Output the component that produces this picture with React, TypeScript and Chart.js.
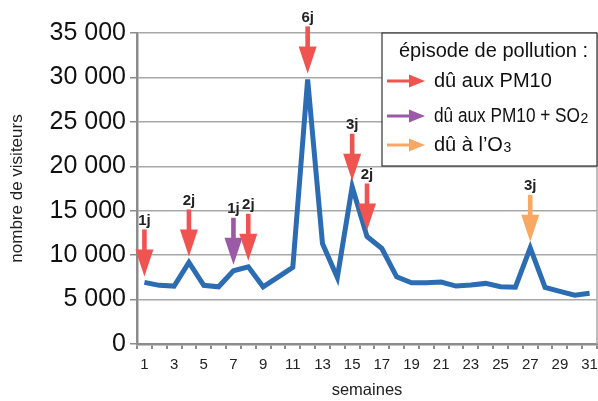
import React, { useEffect, useRef } from "react";
import { Chart, registerables } from "chart.js";

Chart.register(...registerables);

const weeks = ["1","2","3","4","5","6","7","8","9","10","11","12","13","14","15","16","17","18","19","20","21","22","23","24","25","26","27","28","29","30","31"];
const visitors = [6930, 6600, 6520, 9180, 6600, 6440, 8240, 8690, 6440, 7530, 8620, 29780, 11300, 7490, 17700, 12100, 10750, 7560, 6890, 6890, 6970, 6520, 6630, 6820, 6440, 6400, 10820, 6370, 5920, 5500, 5700];
const yTickValues = [0, 5000, 10000, 15000, 20000, 25000, 30000, 35000];
const yTickLabels = ["0", "5 000", "10 000", "15 000", "20 000", "25 000", "30 000", "35 000"];

const episodeWeeks = ["1", "4", "7", "8", "12", "15", "16", "27"];
const episodeDays = ["1j", "2j", "1j", "2j", "6j", "3j", "2j", "3j"];
const episodeCauses = ["PM10", "PM10", "PM10+SO2", "PM10", "PM10", "PM10", "PM10", "O3"];

const legendTitle = "épisode de pollution :";
const legendCauses = ["PM10", "PM10+SO2", "O3"];
const legendTexts = ["dû aux PM10", "dû aux PM10 + SO", "dû à l’O"];
const legendSubs = ["", "2", "3"];

const causeColors: Record<string, string> = {
  "PM10": "#f05450",
  "PM10+SO2": "#9b5aa7",
  "O3": "#f7a963",
};

const FONT = "'Liberation Sans', Arial, sans-serif";

const overlayPlugin = {
  id: "overlay",
  afterDatasetsDraw(chart: any) {
    const ctx = chart.ctx;
    const xs = chart.scales.x;
    const ys = chart.scales.y;
    const ca = chart.chartArea;
    ctx.save();
    ctx.strokeStyle = "#a8a8a8";
    ctx.lineWidth = 1.5;
    ctx.beginPath();
    ctx.moveTo(ca.right, ca.top);
    ctx.lineTo(ca.right, ca.bottom);
    ctx.stroke();

    episodeWeeks.forEach((w, i) => {
      const idx = weeks.indexOf(w);
      const x = xs.getPixelForValue(idx);
      const y = ys.getPixelForValue(visitors[idx]);
      const tip = y - 6;
      const headBase = tip - 27;
      const top = tip - 47;
      ctx.fillStyle = causeColors[episodeCauses[i]];
      ctx.fillRect(x - 2.3, top, 4.6, headBase - top + 1);
      ctx.beginPath();
      ctx.moveTo(x - 9, headBase);
      ctx.lineTo(x + 9, headBase);
      ctx.lineTo(x, tip);
      ctx.closePath();
      ctx.fill();
      ctx.fillStyle = "#222";
      ctx.font = `bold 15px ${FONT}`;
      ctx.textAlign = "center";
      ctx.textBaseline = "middle";
      ctx.fillText(episodeDays[i], x, top - 9);
    });
    ctx.restore();
  },
  afterDraw(chart: any) {
    const ctx = chart.ctx;
    const ca = chart.chartArea;
    const left = ca.right - 215;
    const top = ca.top;
    const w = 215;
    const h = 133;
    ctx.save();
    ctx.fillStyle = "#ffffff";
    ctx.fillRect(left, top, w, h);
    ctx.strokeStyle = "#333";
    ctx.lineWidth = 1.2;
    ctx.strokeRect(left, top, w, h);
    ctx.fillStyle = "#111";
    ctx.textBaseline = "middle";
    ctx.textAlign = "left";
    ctx.font = `20px ${FONT}`;
    ctx.fillText(legendTitle, left + 17, top + 18);
    const rowY = [48, 83, 112];
    legendCauses.forEach((c, i) => {
      const y = top + rowY[i];
      ctx.fillStyle = causeColors[c];
      ctx.fillRect(left + 5, y - 1.5, 24, 3);
      ctx.beginPath();
      ctx.moveTo(left + 27, y - 6.5);
      ctx.lineTo(left + 43, y);
      ctx.lineTo(left + 27, y + 6.5);
      ctx.closePath();
      ctx.fill();
      ctx.fillStyle = "#111";
      ctx.font = `20px ${FONT}`;
      const tx = left + 52;
      const maxW = i === 1 ? 146 : 200;
      ctx.fillText(legendTexts[i], tx, y, maxW);
      const tw = Math.min(ctx.measureText(legendTexts[i]).width, maxW);
      if (legendSubs[i]) {
        ctx.font = `14px ${FONT}`;
        ctx.fillText(legendSubs[i], tx + tw + 0.5, y + 3);
      }
    });
    ctx.restore();
  },
};

export default function App() {
  const canvasRef = useRef<HTMLCanvasElement | null>(null);

  useEffect(() => {
    document.body.style.margin = "0";
    const canvas = canvasRef.current;
    if (!canvas) return;
    const chart = new Chart(canvas, {
      type: "line",
      data: {
        labels: weeks,
        datasets: [
          {
            data: visitors,
            borderColor: "#2b6cb3",
            borderWidth: 5,
            pointRadius: 0,
            tension: 0,
            borderJoinStyle: "miter",
            fill: false,
          },
        ],
      },
      options: {
        animation: false,
        responsive: true,
        maintainAspectRatio: false,
        layout: { padding: { top: 33, right: 1, left: 0, bottom: 0 } },
        plugins: {
          legend: { display: false },
          tooltip: { enabled: false },
          title: { display: false },
        },
        scales: {
          x: {
            offset: true,
            grid: {
              offset: true,
              drawOnChartArea: false,
              tickLength: 5,
              tickColor: "#8c8c8c",
              lineWidth: 2,
            },
            border: { color: "#8c8c8c", width: 2.5 },
            ticks: {
              autoSkip: false,
              maxRotation: 0,
              minRotation: 0,
              padding: 7,
              color: "#222",
              font: { family: FONT, size: 15 },
              callback: (_v: any, idx: number) => (idx % 2 === 0 ? weeks[idx] : ""),
            },
            title: {
              display: true,
              text: "semaines",
              color: "#222",
              font: { family: FONT, size: 16.5 },
              padding: { top: 0, bottom: 1 },
            },
            afterFit: (s: any) => {
              s.height = 57;
              s.paddingLeft = 0;
              s.paddingRight = 0;
            },
          },
          y: {
            min: 0,
            max: 35000,
            afterBuildTicks: (s: any) => {
              s.ticks = yTickValues.map((v) => ({ value: v }));
            },
            grid: {
              color: "#a8a8a8",
              lineWidth: 1.5,
              tickLength: 7,
              tickColor: "#8c8c8c",
            },
            border: { color: "#8c8c8c", width: 2.5 },
            ticks: {
              padding: 4,
              color: "#111",
              font: { family: FONT, size: 25 },
              callback: (v: any) => {
                const i = yTickValues.indexOf(Number(v));
                return i >= 0 ? yTickLabels[i] : "";
              },
            },
            title: {
              display: true,
              text: "nombre de visiteurs",
              color: "#222",
              font: { family: FONT, size: 17 },
              padding: { top: 7, bottom: 0 },
            },
            afterFit: (s: any) => {
              s.width = 137;
              s.paddingTop = 0;
              s.paddingBottom = 0;
            },
          },
        },
      },
      plugins: [overlayPlugin],
    });
    return () => chart.destroy();
  }, []);

  return (
    <div style={{ width: 598, height: 401, position: "relative" }}>
      <canvas ref={canvasRef} />
    </div>
  );
}
